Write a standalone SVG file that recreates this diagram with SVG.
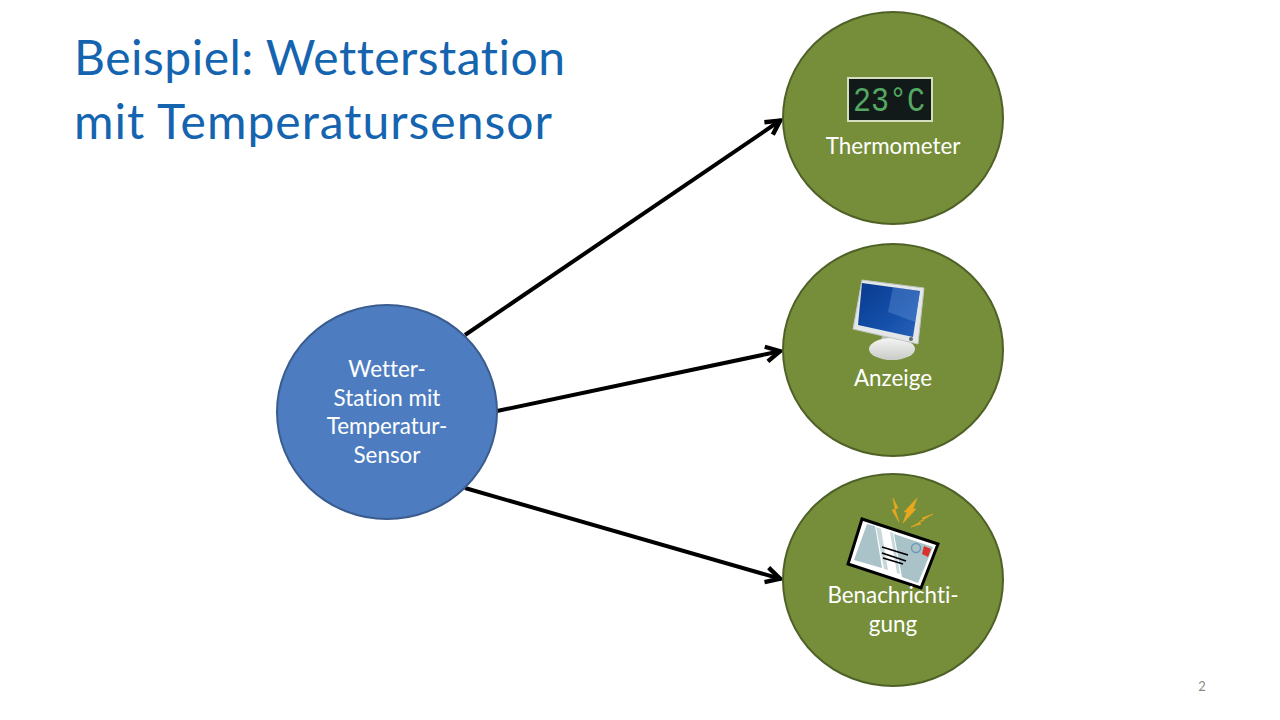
<svg xmlns="http://www.w3.org/2000/svg" width="1280" height="720" viewBox="0 0 1280 720">
<defs>
<marker id="arr" markerUnits="userSpaceOnUse" markerWidth="24" markerHeight="24" refX="19" refY="12" orient="auto"><path d="M4 4.500L18 12L4 19.500" fill="none" stroke="#000" stroke-width="4.400"/></marker>
<linearGradient id="scr" x1="0" y1="0" x2="1" y2="1"><stop offset="0" stop-color="#0a3a8e"/><stop offset="0.6" stop-color="#1450aa"/><stop offset="1" stop-color="#2a62ba"/></linearGradient>
<linearGradient id="base" x1="0" y1="0" x2="0" y2="1"><stop offset="0" stop-color="#f4f4f4"/><stop offset="1" stop-color="#c8ccc6"/></linearGradient>
</defs>
<style>
text{font-family:Lato,"Liberation Sans",sans-serif;font-variant-ligatures:none}
.t{font-size:48px;fill:#1464b0}
.l{font-size:22.400px;fill:#fff;text-anchor:middle}
.g{fill:#768e3a;stroke:#4f6127;stroke-width:2}
.b{fill:#4d7dc0;stroke:#3a5c8e;stroke-width:2}
.c{fill:none;stroke:#000;stroke-width:4;marker-end:url(#arr)}
</style>
<rect width="1280" height="720" fill="#fff"/>
<g id="title"><text class="t" x="74" y="75" textLength="491" lengthAdjust="spacing">Beispiel: Wetterstation</text><text class="t" x="74" y="139" textLength="478" lengthAdjust="spacing">mit Temperatursensor</text></g>
<g id="connectors">
<path class="c" d="M465 335L781 120"/>
<path class="c" d="M497 411L781 351"/>
<path class="c" d="M465 488L781 579"/>
</g>
<g id="station"><ellipse class="b" cx="387" cy="412" rx="110" ry="107"/>
<text class="l" x="387" y="377">Wetter-</text><text class="l" x="387" y="406">Station mit</text><text class="l" x="387" y="434">Temperatur-</text><text class="l" x="387" y="463">Sensor</text></g>
<g id="thermometer"><ellipse class="g" cx="893" cy="118" rx="110" ry="106"/>
<rect x="848" y="78" width="84" height="43" fill="#111a18" stroke="#d5dfc0" stroke-width="2"/>
<text x="889" y="111" font-size="35" fill="#55a862" text-anchor="middle" textLength="72" lengthAdjust="spacingAndGlyphs" style="font-family:'Liberation Mono',monospace">23°C</text>
<text class="l" x="893" y="154">Thermometer</text></g>
<g id="anzeige"><ellipse class="g" cx="893" cy="350" rx="110" ry="106"/>
<path d="M882 336L905 340L906 350L880 348Z" fill="#b9bdb8"/>
<ellipse cx="892" cy="349" rx="23" ry="11" fill="url(#base)"/>
<path d="M862 280L924 288L918 344L853 329Z" fill="#e4e7e7" stroke="#c2c6c4"/>
<path d="M862 283L920 291L913 337L858 325Z" fill="url(#scr)"/>
<path d="M893 287L920 291L915 322L888 312Z" fill="#6f9bdc" opacity=".35"/>
<circle cx="911" cy="339" r="2" fill="#5a6a6a"/>
<text class="l" x="893" y="386">Anzeige</text></g>
<g id="benachrichtigung"><ellipse class="g" cx="893" cy="580" rx="110" ry="106"/>
<path d="M893 498L898 508L895 509L899 522L892 510L895 509ZM917 498L913 509L916 509L903 523L907 512L904 512ZM933 514L922 518L924 520L911 527L921 524L919 522Z" fill="#e8a81e" stroke="#e8a81e" stroke-width=".6"/>
<path d="M862 519L938 544L921 588L848 564Z" fill="#fff" stroke="#000" stroke-width="3"/>
<path d="M867 524L875 526L882 568L854 560Z" fill="#a9c3c9"/>
<path d="M876 527L881 529L888 570L884 569Z" fill="#c6d8dc"/>
<path d="M890 532L893 533L900 574L897 573Z" fill="#c6d8dc"/>
<path d="M894 534L933 547L918 583L902 577Z" fill="#a9c3c9"/>
<path d="M882 547L908 555M882 553L906 561M883 558L903 564" stroke="#000" stroke-width="1.800"/>
<circle cx="916" cy="548" r="4.500" fill="none" stroke="#6d9bb5" stroke-width="1.500"/>
<path d="M924 546L931 549L928 557L922 554Z" fill="#d8322c"/>
<text class="l" x="893" y="603">Benachrichti-</text><text class="l" x="893" y="632">gung</text></g>
<text id="page" x="1202" y="691" font-size="13" fill="#8a8a8a" text-anchor="middle">2</text>
</svg>
